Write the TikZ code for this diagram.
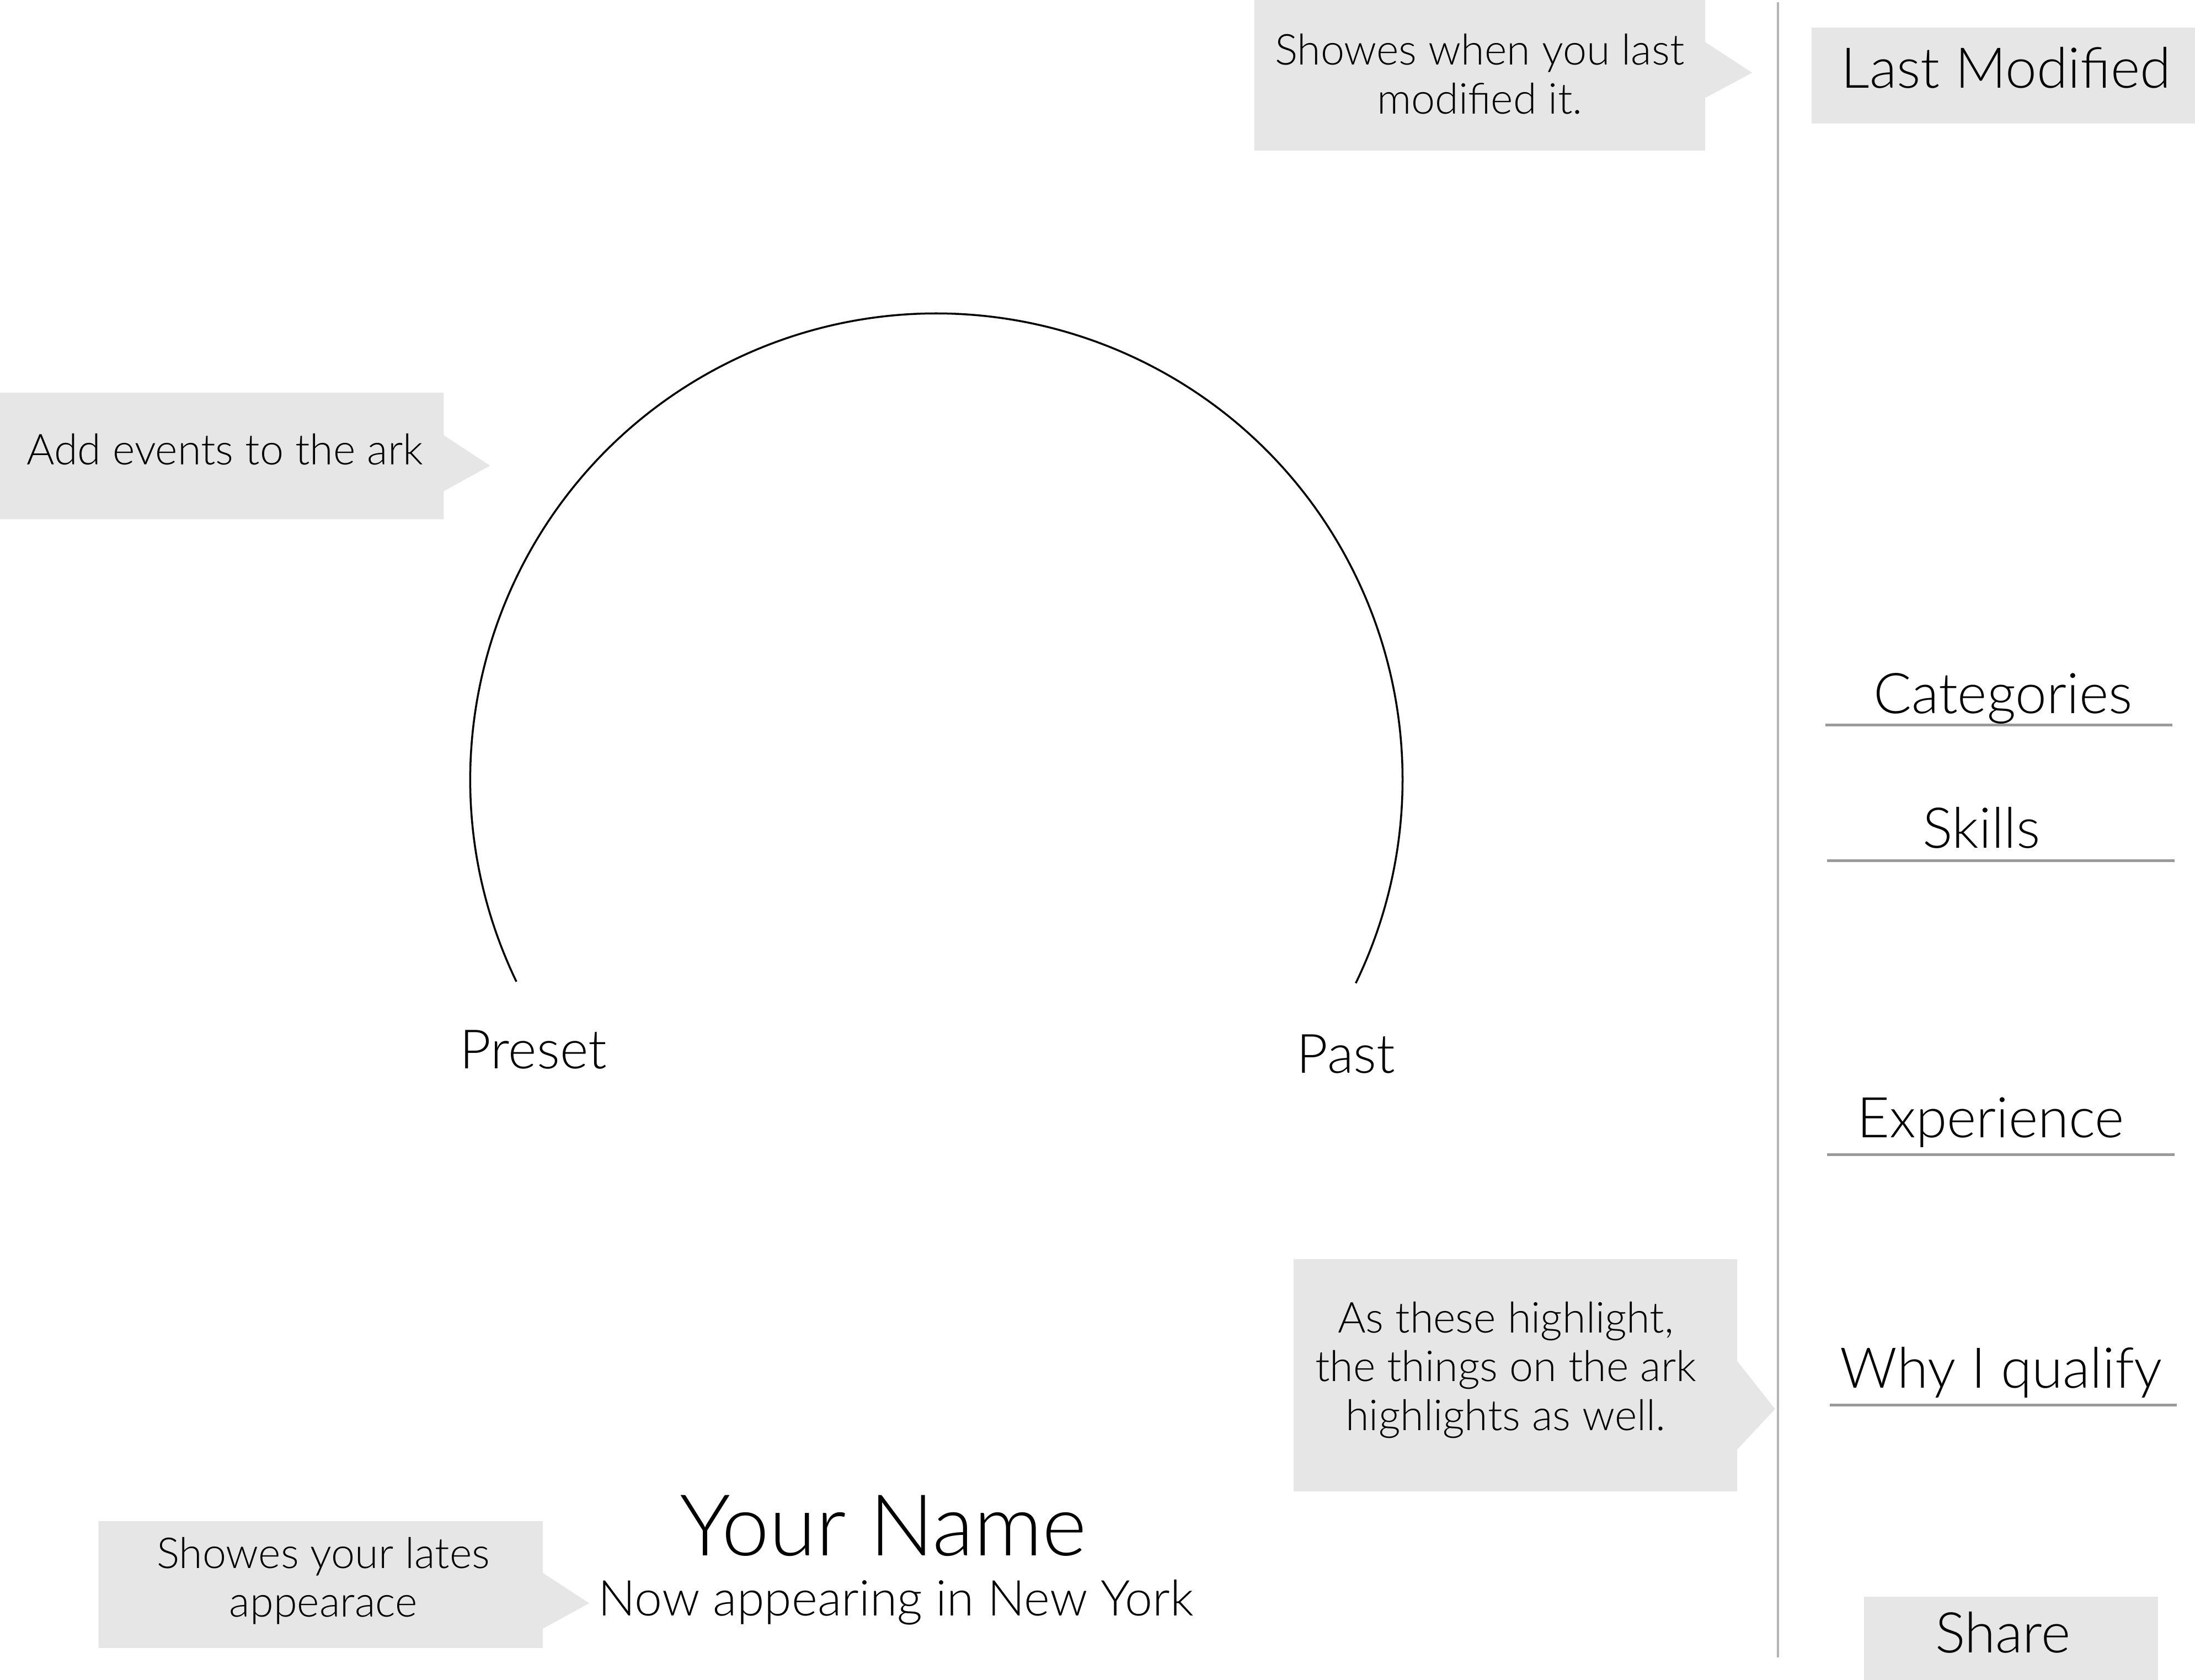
\documentclass[tikz,border=0pt]{standalone}
\usepackage{fontspec}
\setmainfont{Lato Light}
\definecolor{boxgray}{HTML}{E6E6E6}
\definecolor{rulegray}{HTML}{9A9A9A}
\definecolor{sidegray}{HTML}{B5B5B5}
\begin{document}
\begin{tikzpicture}[x=0.025376cm, y=0.025376cm, line join=round,
	note/.style={font=\fontsize{22}{25.2}\selectfont, align=center, inner sep=0pt, anchor=base},
	menu/.style={font=\fontsize{29}{33}\selectfont, inner sep=0pt, anchor=base},
	arclabel/.style={font=\fontsize{28}{33}\selectfont, inner sep=0pt, anchor=base},
	uline/.style={draw=rulegray, line width=1.4pt}]
	\useasboundingbox (0,0) rectangle (1568,1200.3);
	% Hop chu thich
	\fill[boxgray] (896,1092.7)--(896,1200.3)--(1218,1200.3)--(1218,1170.3)--(1251.6,1148.3)--(1218,1130.3)--(1218,1092.7)--cycle;
	\fill[boxgray] (0,829.3)--(0,919.8)--(317,919.8)--(317,889.3)--(350,867.6)--(317,849.3)--(317,829.3)--cycle;
	\fill[boxgray] (924,134.7)--(924,300.6)--(1241,300.6)--(1241,227.7)--(1268,193.6)--(1241,164.7)--(1241,134.7)--cycle;
	\fill[boxgray] (70.4,22.9)--(70.4,113.4)--(387.8,113.4)--(387.8,76.5)--(420.9,54.8)--(387.8,36.7)--(387.8,22.9)--cycle;
	\fill[boxgray] (1294,1111.9) rectangle (1568,1180.6);
	\fill[boxgray] (1331.7,0) rectangle (1541.5,59.3);
	\node[note] (modnote) at (1057,1119.1) {Showes when you last\\modified it.};
	\node[note] (arknote) at (160.6,868.4) {Add events to the ark};
	\node[note] (hlnote) at (1075.6,178.3) {As these highlight,\\the things on the ark\\highlights as well.};
	\node[note] (appnote) at (231,45) {Showes your lates\\appearace};
	% Cot ben phai
	\draw[sidegray, line width=1pt] (1270,1198.7)--(1270,16.3);
	\node[menu] (lastmod) at (1433,1137.5) {Last Modified};
	\node[menu] (cat) at (1430.8,690.6) {Categories};
	\node[menu] (skills) at (1415.5,594.3) {Skills};
	\node[menu] (exp) at (1422,387.7) {Experience};
	\node[menu] (why) at (1429.6,208.6) {Why I qualify};
	\node[menu] (share) at (1430.7,19.3) {Share};
	\draw[uline] (1304,682.3)--(1552,682.3);
	\draw[uline] (1305,585.4)--(1553.5,585.4);
	\draw[uline] (1305,375.3)--(1553.5,375.3);
	\draw[uline] (1307,196.3)--(1555,196.3);
	% Cung
	\draw[line width=1pt] (368.9,498.9) arc[start angle=205.7, end angle=-25.9, radius=333];
	\node[arclabel] (preset) at (381,436.6) {Preset};
	\node[arclabel] (past) at (961.5,433.8) {Past};
	\node[inner sep=0pt, anchor=base, font=\fontsize{44}{50}\selectfont] (name) at (631,89) {Your Name};
	\node[inner sep=0pt, anchor=base, font=\fontsize{25.5}{29}\selectfont] (city) at (640,45.7) {Now appearing in New York};
\end{tikzpicture}
\end{document}
